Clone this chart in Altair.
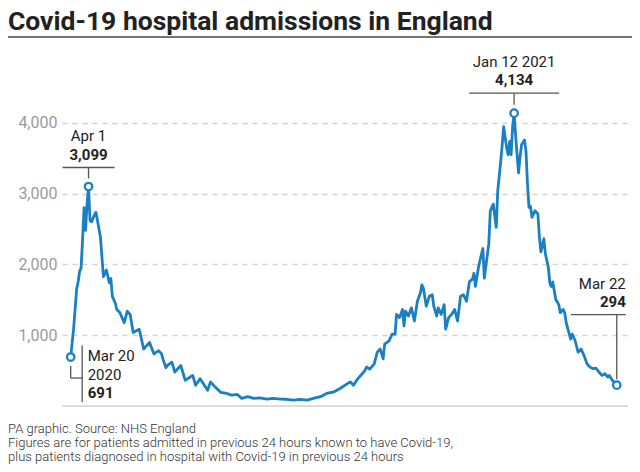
import altair as alt
import pandas as pd

# ---------------- data ----------------
start_date = "2020-03-20"
day_offsets = [
    0, 2, 4, 5, 6, 7, 8, 9, 10, 11,
    12, 13, 14, 16, 17, 20, 22, 24, 26, 27,
    28, 30, 31, 33, 36, 38, 40, 42, 46, 47,
    49, 53, 56, 59, 61, 62, 64, 65, 68, 70,
    74, 77, 82, 84, 87, 92, 94, 97, 101, 105,
    108, 112, 115, 119, 123, 127, 132, 136, 141, 145,
    150, 154, 159, 163, 168, 172, 177, 181, 186, 188,
    190, 193, 197, 199, 201, 204, 206, 208, 210, 211,
    214, 216, 218, 219, 221, 223, 224, 225, 227, 229,
    231, 233, 235, 236, 237, 239, 241, 243, 244, 246,
    247, 249, 251, 252, 254, 256, 258, 260, 262, 264,
    266, 268, 270, 271, 272, 274, 275, 277, 278, 281,
    282, 284, 286, 287, 289, 290, 291, 293, 294, 295,
    296, 297, 298, 299, 300, 301, 302, 303, 305, 306,
    307, 308, 309, 310, 312, 314, 315, 316, 318, 319,
    321, 322, 323, 324, 326, 327, 328, 329, 331, 332,
    333, 336, 337, 339, 341, 343, 345, 347, 349, 351,
    353, 355, 357, 359, 361, 362, 364, 367,
]
admissions = [
    691, 1100, 1650, 1750, 1900, 1950, 2350, 2800, 2480, 2850,
    3099, 2620, 2600, 2700, 2734, 2385, 1827, 1920, 1739, 1800,
    1548, 1450, 1363, 1320, 1177, 1339, 1290, 1038, 1083, 1000,
    805, 898, 735, 781, 740, 665, 540, 572, 619, 480,
    572, 363, 432, 293, 386, 223, 340, 270, 191, 177,
    153, 163, 107, 131, 107, 115, 98, 107, 98, 95,
    84, 95, 84, 107, 131, 177, 200, 247, 317, 340,
    293, 386, 480, 550, 520, 596, 759, 805, 665, 875,
    921, 1014, 1014, 1293, 1250, 1363, 1130, 1340, 1270, 1386,
    1200, 1479, 1596, 1711, 1665, 1409, 1548, 1570, 1409, 1270,
    1386, 1293, 1432, 1084, 1247, 1293, 1363, 1200, 1548, 1570,
    1479, 1757, 1790, 1874, 1688, 1950, 2050, 2223, 1805, 2293,
    2757, 2850, 2524, 3036, 3455, 3688, 3943, 3640, 3548, 3734,
    3548, 3943, 4134, 3827, 3548, 3292, 3518, 3688, 3757, 3594,
    3130, 2803, 2820, 2664, 2757, 2710, 2385, 2176, 2362, 2150,
    1960, 1735, 1688, 1750, 1502, 1470, 1432, 1317, 1363, 1317,
    1177, 944, 1014, 921, 759, 805, 711, 596, 549, 527,
    535, 480, 432, 455, 410, 432, 363, 294,
]

ann_dates = ["2020-03-20", "2020-04-01", "2021-01-12", "2021-03-22"]
ann_values = [691, 3099, 4134, 294]
ann_labels = ["Mar 20", "Apr 1", "Jan 12 2021", "Mar 22"]
ann_numbers = ["691", "3,099", "4,134", "294"]
first_year = "2020"

y_ticks = [1000, 2000, 3000, 4000]
title_text = "Covid-19 hospital admissions in England"
notes = [
    "PA graphic. Source: NHS England",
    "Figures are for patients admitted in previous 24 hours known to have Covid-19,",
    "plus patients diagnosed in hospital with Covid-19 in previous 24 hours",
]

# ---------------- style ----------------
W, H = 566, 340
BLUE = "#1b80c2"
FONT = "Roboto"
INK = "#222222"
LEAD = "#555555"

df = pd.DataFrame({
    "date": pd.Timestamp(start_date) + pd.to_timedelta(day_offsets, unit="D"),
    "admissions": admissions,
})
ann = pd.DataFrame({
    "date": pd.to_datetime(ann_dates),
    "admissions": ann_values,
    "label": ann_labels,
    "number": ann_numbers,
})
one = pd.DataFrame({"k": [0]})

x_scale = alt.Scale(domain=[alt.DateTime(year=2020, month=3, date=14, hours=4),
                            alt.DateTime(year=2021, month=3, date=29, hours=13)])
y_scale = alt.Scale(domain=[0, 4800], nice=False)
y_axis = alt.Axis(values=y_ticks, labelExpr="format(datum.value, ',')", grid=True,
                  gridDash=[5, 5], gridColor="#d2d2d2", gridWidth=1.3, domain=False,
                  ticks=False, labelColor="#9b9b9b", labelFont=FONT, labelFontSize=16,
                  labelPadding=5, title=None)

X = alt.X("date:T", scale=x_scale, axis=None)
Y = alt.Y("admissions:Q", scale=y_scale, axis=y_axis)
X2 = alt.X2("date:T")
Y2 = alt.Y2("admissions:Q")

line = alt.Chart(df).mark_line(color=BLUE, strokeWidth=2.8, strokeJoin="round").encode(x=X, y=Y)

baseline = alt.Chart(pd.DataFrame({"admissions": [0]})).mark_rule(
    color="#d0d0d0", strokeWidth=1.5).encode(y=Y, x=alt.value(0), x2=alt.value(W))


def sub(i):
    return alt.Chart(ann.iloc[[i]])


def seg(i, dx1, dy1, dx2, dy2):
    return sub(i).mark_rule(color=LEAD, strokeWidth=1.3, xOffset=dx1, yOffset=dy1,
                            x2Offset=dx2, y2Offset=dy2).encode(x=X, x2=X2, y=Y, y2=Y2)


def txt(i, field, dx, dy, align, bold=False):
    return sub(i).mark_text(font=FONT, fontSize=15, color=INK, align=align,
                            baseline="alphabetic", dx=dx, dy=dy,
                            fontWeight="bold" if bold else "normal").encode(
        x=X, y=Y, text=field)


layers = [baseline, line]

# Mar 20 2020
layers += [
    seg(0, 0, 9, 0, 21),
    seg(0, 0, 21, 11.5, 21),
    seg(0, 11.5, -11.5, 11.5, 45),
    txt(0, "label:N", 17, 3.5, "left"),
    sub(0).mark_text(font=FONT, fontSize=15, color=INK, align="left",
                     baseline="alphabetic", dx=17, dy=22.5).encode(
        x=X, y=Y, text=alt.value(first_year)),
    txt(0, "number:N", 17, 41, "left", bold=True),
]
# Apr 1
layers += [
    seg(1, -26, -19, 26, -19),
    seg(1, 0, -19, 0, -8),
    txt(1, "label:N", 0, -45, "center"),
    txt(1, "number:N", 0, -26, "center", bold=True),
]
# Jan 12 2021
layers += [
    seg(2, -45, -20, 45, -20),
    seg(2, 0, -20, 0, -8.5),
    txt(2, "label:N", 0, -46, "center"),
    txt(2, "number:N", 0, -28, "center", bold=True),
]
# Mar 22
layers += [
    seg(3, -46, -70.5, 9, -70.5),
    seg(3, 0, -70.5, 0, -6),
    txt(3, "label:N", 9, -96, "right"),
    txt(3, "number:N", 9, -78, "right", bold=True),
]

points = alt.Chart(ann).mark_point(shape="circle", filled=True, fill="white", stroke=BLUE,
                                   strokeWidth=2.3, size=55, opacity=1).encode(x=X, y=Y)
layers.append(points)

title = alt.Chart(one).mark_text(align="left", baseline="alphabetic", font=FONT, fontSize=26.5,
                                 fontWeight="bold", color=INK).encode(
    text=alt.value(title_text), x=alt.value(-54), y=alt.value(-36.5))
title_rule = alt.Chart(one).mark_rule(color="#444444", strokeWidth=1.6).encode(
    x=alt.value(-54), x2=alt.value(W + 4), y=alt.value(-29))
footnote = alt.Chart(one).mark_text(align="left", baseline="alphabetic", font=FONT, fontSize=13,
                                    fontWeight=300, color="#333333", lineHeight=14).encode(
    text=alt.value(notes), x=alt.value(-54), y=alt.value(H + 27))
layers += [title, title_rule, footnote]

chart = alt.layer(*layers).properties(
    width=W, height=H,
    padding={"left": 54, "top": 58, "right": 4, "bottom": 58},
    autosize=alt.AutoSizeParams(type="none"),
).configure_view(stroke=None)

chart.save("out.html", embed_options={"renderer": "svg", "actions": False})
